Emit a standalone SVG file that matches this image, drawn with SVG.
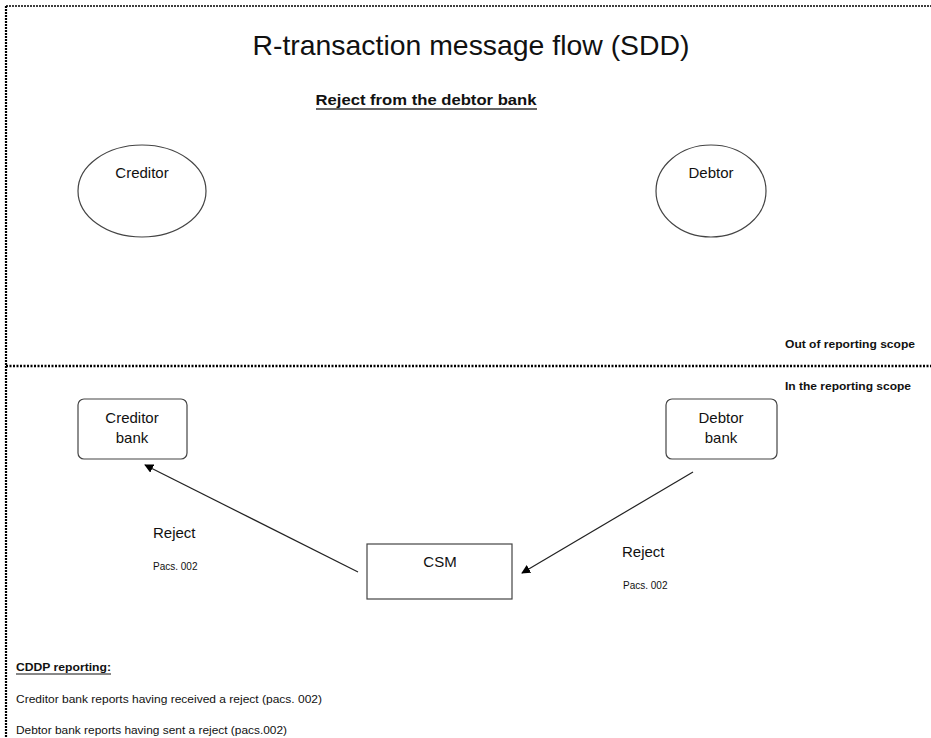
<svg xmlns="http://www.w3.org/2000/svg" width="931" height="738" viewBox="0 0 931 738">
<style>
text{font-family:"Liberation Sans",Arial,sans-serif;fill:#111}
.node{fill:#fff;stroke:#444;stroke-width:1.2}
.lbl{font-size:15px;text-anchor:middle}
.small{font-size:10.5px}
.bold{font-weight:bold}
.conn{stroke:#222;stroke-width:1.2;fill:none;marker-end:url(#ah)}
.border{stroke:#000;stroke-dasharray:2 1;fill:none}
</style>
<defs>
<marker id="ah" viewBox="0 0 10 10" refX="9" refY="5" markerWidth="9" markerHeight="9" markerUnits="userSpaceOnUse" orient="auto">
<path d="M0,0 L10,5 L0,10 z" fill="#000"/>
</marker>
</defs>
<rect width="931" height="738" fill="#fff"/>
<path class="border" stroke-width="1.5" d="M6,6 H931"/>
<path class="border" stroke-width="2.2" d="M6,6 V738"/>
<path d="M6,366 H931" stroke="#000" stroke-width="2.5" stroke-dasharray="2 1.5" fill="none"/>

<text x="471" y="55" font-size="28" text-anchor="middle" textLength="437" lengthAdjust="spacingAndGlyphs">R-transaction message flow (SDD)</text>
<text x="426" y="105" font-size="14" class="bold" text-anchor="middle" textLength="221" lengthAdjust="spacingAndGlyphs">Reject from the debtor bank</text>
<line x1="316" y1="109" x2="537" y2="109" stroke="#333" stroke-width="1.5"/>

<g id="creditor">
<ellipse class="node" cx="142" cy="191" rx="64" ry="46"/>
<text class="lbl" x="142" y="178">Creditor</text>
</g>
<g id="debtor">
<ellipse class="node" cx="711" cy="191" rx="55" ry="46"/>
<text class="lbl" x="711" y="178">Debtor</text>
</g>

<text x="915" y="348" class="small bold" text-anchor="end" textLength="130" lengthAdjust="spacingAndGlyphs">Out of reporting scope</text>
<text x="911" y="390" class="small bold" text-anchor="end" textLength="126" lengthAdjust="spacingAndGlyphs">In the reporting scope</text>

<g id="creditor-bank">
<rect class="node" x="78" y="399" width="109" height="60" rx="6"/>
<text class="lbl" x="132" y="423">Creditor</text>
<text class="lbl" x="132" y="443">bank</text>
</g>
<g id="debtor-bank">
<rect class="node" x="666" y="399" width="111" height="60" rx="6"/>
<text class="lbl" x="721" y="423">Debtor</text>
<text class="lbl" x="721" y="443">bank</text>
</g>
<g id="csm">
<rect class="node" x="367" y="544" width="145" height="55" stroke="#222"/>
<text class="lbl" x="440" y="567">CSM</text>
</g>

<g id="connectors">
<line class="conn" x1="358" y1="572" x2="145" y2="465"/>
<line class="conn" x1="693" y1="472" x2="522" y2="573"/>
</g>

<text x="153" y="538" font-size="15">Reject</text>
<text x="153" y="570" font-size="10">Pacs. 002</text>
<text x="622" y="557" font-size="15">Reject</text>
<text x="623" y="589" font-size="10">Pacs. 002</text>

<text x="16" y="671" class="small bold" textLength="95" lengthAdjust="spacingAndGlyphs">CDDP reporting:</text>
<line x1="16" y1="674" x2="111" y2="674" stroke="#111" stroke-width="1"/>
<text x="16" y="703" class="small" textLength="306" lengthAdjust="spacingAndGlyphs">Creditor bank reports having received a reject (pacs. 002)</text>
<text x="16" y="734" class="small" textLength="271" lengthAdjust="spacingAndGlyphs">Debtor bank reports having sent a reject (pacs.002)</text>
</svg>
